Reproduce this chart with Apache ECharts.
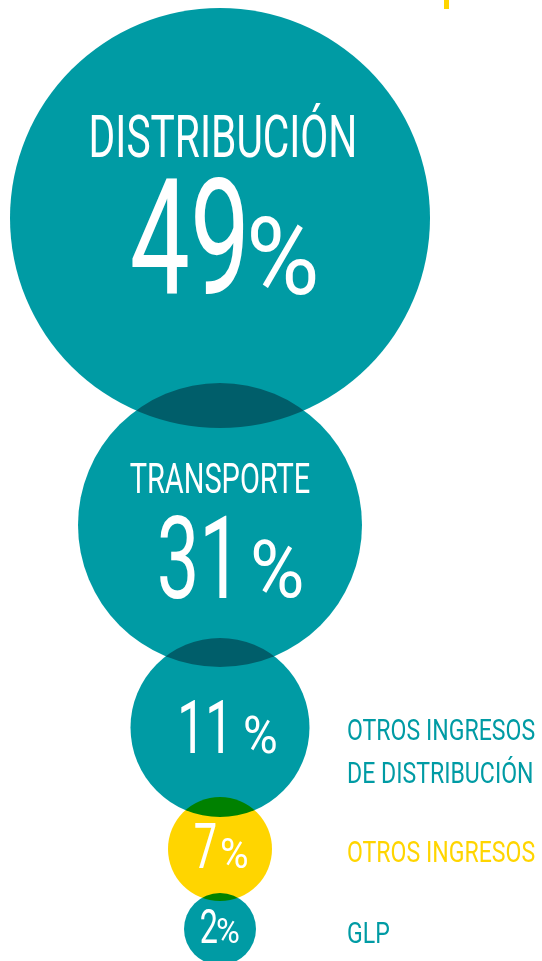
<!DOCTYPE html>
<html>
<head>
<meta charset="utf-8">
<script src="https://cdn.jsdelivr.net/npm/echarts@6/dist/echarts.min.js"></script>
<style>
  html, body { margin: 0; padding: 0; background: #fff; }
  #chart { width: 542px; height: 961px; }
</style>
</head>
<body>
<div id="chart"></div>
<script>
// datos
var names = ['DISTRIBUCIÓN', 'TRANSPORTE', 'OTROS INGRESOS\nDE DISTRIBUCIÓN', 'OTROS INGRESOS', 'GLP'];
var values = [49, 31, 11, 7, 2];

// estilo / layout
var TEAL = '#009ba4';
var YELLOW = '#ffd500';
var colors = [TEAL, TEAL, TEAL, YELLOW, TEAL];
var nameInside = [true, true, false, false, false];
var radius = [210, 142, 89.5, 52, 36];
var overlap = [45, 29, 20, 8];
var firstCenterY = 218;
var centerX = 220;
var sideX = 347;
var FONT = 'Roboto, "Liberation Sans", sans-serif';
var MID = 0.245;                         // baseline - centro (en em) para textBaseline middle
var titleScale = 0.69, numScale = 0.66, pctScale = 0.93, sideScale = 0.77;
var numFont = [162, 115, 75, 63, 49];
var pctFont = [108, 80, 51, 42, 35];
var numRight = [30, 22, 13, -3, -2];     // borde derecho del numero (rel. al centro)
var pctLeft = [26, 30, 23, 0, -4];       // borde izquierdo del %
var numBase = [75, 72, 25.5, 19, 14];    // linea base, rel. al centro
var titleFont = [59, 42];
var titleBase = [-61, -32];
var titleDX = [3, 0];
var sideFont = 30;
var sideBase = [0, 0, 12.5, 13, 14];
var sideLineGap = 43;

// posiciones verticales de cada circulo
var centerY = [firstCenterY];
for (var i = 1; i < radius.length; i++) {
    centerY.push(centerY[i - 1] + radius[i - 1] + radius[i] - overlap[i - 1]);
}

var circleData = [], textData = [];
for (var i = 0; i < values.length; i++) {
    circleData.push({
        value: [centerX, centerY[i], values[i]],
        symbolSize: radius[i] * 2,
        itemStyle: { color: colors[i] }
    });
    textData.push([centerX, centerY[i], values[i]]);
}

function txt(x, y, text, size, scale, align, color) {
    return {
        type: 'text',
        x: x,
        y: y - MID * size,
        scaleX: scale,
        style: {
            text: text,
            fontSize: size,
            fontFamily: FONT,
            fill: color,
            align: align,
            verticalAlign: 'middle'
        }
    };
}

function renderText(params, api) {
    var i = params.dataIndex;
    var p = api.coord([api.value(0), api.value(1)]);
    var cx = p[0], cy = p[1];
    var kids = [];
    kids.push(txt(cx + numRight[i], cy + numBase[i], String(api.value(2)), numFont[i], numScale, 'right', '#fff'));
    kids.push(txt(cx + pctLeft[i], cy + numBase[i], '%', pctFont[i], pctScale, 'left', '#fff'));
    if (nameInside[i]) {
        kids.push(txt(cx + titleDX[i], cy + titleBase[i], names[i], titleFont[i], titleScale, 'center', '#fff'));
    } else {
        var sx = api.coord([sideX, 0])[0];
        var lines = names[i].split('\n');
        for (var k = 0; k < lines.length; k++) {
            kids.push(txt(sx, cy + sideBase[i] + k * sideLineGap, lines[k], sideFont, sideScale, 'left', colors[i]));
        }
    }
    return { type: 'group', children: kids };
}

var myChart = echarts.init(document.getElementById('chart'));
var option = {
    backgroundColor: '#fff',
    animation: false,
    grid: { left: 0, right: 0, top: 0, bottom: 0 },
    xAxis: { type: 'value', min: 0, max: 542, show: false },
    yAxis: { type: 'value', min: 0, max: 961, inverse: true, show: false },
    graphic: [{
        type: 'rect',
        left: 444, top: 0,
        shape: { width: 5, height: 9 },
        style: { fill: YELLOW }
    }],
    series: [{
        type: 'scatter',
        symbol: 'circle',
        blendMode: 'multiply',
        itemStyle: { opacity: 1 },
        emphasis: { disabled: true },
        silent: true,
        data: circleData,
        z: 1
    }, {
        type: 'custom',
        silent: true,
        renderItem: renderText,
        data: textData,
        z: 2
    }]
};
myChart.setOption(option);
</script>
</body>
</html>
